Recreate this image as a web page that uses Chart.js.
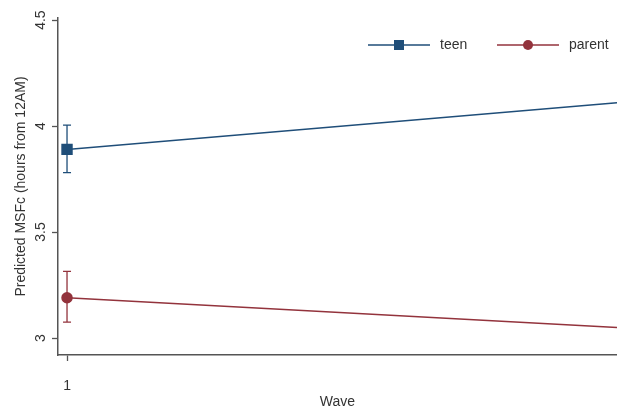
<!DOCTYPE html>
<html>
<head>
<meta charset="utf-8">
<script src="https://cdn.jsdelivr.net/npm/chart.js@4"></script>
<style>
  html, body { margin: 0; padding: 0; background: #fff; }
  #wrap { width: 617px; height: 409px; }
</style>
</head>
<body>
<div id="wrap"><canvas id="msfChart" width="617" height="409"></canvas></div>
<script>
// values
const waves = [1, 2];
const teenMean = [3.89, 4.11];
const parentMean = [3.19, 3.05];
const teenLow = [3.78, null];
const teenHigh = [4.005, null];
const parentLow = [3.075, null];
const parentHigh = [3.315, null];
const yTicks = [3, 3.5, 4, 4.5];
const xTicks = [1];

const teenColor = '#1f4e79';
const parentColor = '#93333c';

const toPoints = (ys) => waves.map((w, i) => ({ x: w, y: ys[i] }));

// error bars at each wave where a CI exists
const errorBars = {
    id: 'errorBars',
    afterDatasetsDraw(chart) {
        const { ctx, scales: { x, y } } = chart;
        const sets = [
            [teenLow, teenHigh, teenColor],
            [parentLow, parentHigh, parentColor]
        ];
        ctx.save();
        ctx.lineWidth = 1.3;
        sets.forEach(([lo, hi, color]) => {
            ctx.strokeStyle = color;
            waves.forEach((w, i) => {
                if (lo[i] == null) return;
                const px = x.getPixelForValue(w);
                const y1 = y.getPixelForValue(lo[i]);
                const y2 = y.getPixelForValue(hi[i]);
                ctx.beginPath();
                ctx.moveTo(px, y1); ctx.lineTo(px, y2);
                ctx.moveTo(px - 4, y1); ctx.lineTo(px + 4, y1);
                ctx.moveTo(px - 4, y2); ctx.lineTo(px + 4, y2);
                ctx.stroke();
            });
        });
        ctx.restore();
    }
};

// Stata-like legend: line with marker, then label
const lineLegend = {
    id: 'lineLegend',
    afterDraw(chart) {
        const { ctx } = chart;
        const items = [
            { x: 368, label: 'teen', color: teenColor, style: 'rect' },
            { x: 497, label: 'parent', color: parentColor, style: 'circle' }
        ];
        const yy = 45;
        ctx.save();
        items.forEach(it => {
            ctx.strokeStyle = it.color;
            ctx.lineWidth = 1.5;
            ctx.beginPath();
            ctx.moveTo(it.x, yy); ctx.lineTo(it.x + 62, yy);
            ctx.stroke();
            ctx.fillStyle = it.color;
            if (it.style === 'rect') {
                ctx.fillRect(it.x + 31 - 5, yy - 5, 10, 10);
            } else {
                ctx.beginPath();
                ctx.arc(it.x + 31, yy, 5, 0, Math.PI * 2);
                ctx.fill();
            }
            ctx.fillStyle = '#333';
            ctx.font = '14px "Liberation Sans", Arial, sans-serif';
            ctx.textBaseline = 'middle';
            ctx.textAlign = 'left';
            ctx.fillText(it.label, it.x + 72, yy);
        });
        ctx.restore();
    }
};

const ctx = document.getElementById('msfChart').getContext('2d');
Chart.defaults.font.family = '"Liberation Sans", Arial, sans-serif';
Chart.defaults.color = '#333';

const msfChart = new Chart(ctx, {
    type: 'line',
    data: {
        datasets: [
            {
                label: 'teen',
                data: toPoints(teenMean),
                borderColor: teenColor,
                backgroundColor: teenColor,
                borderWidth: 1.5,
                pointStyle: 'rect',
                pointRadius: [7, 0],
                tension: 0
            },
            {
                label: 'parent',
                data: toPoints(parentMean),
                borderColor: parentColor,
                backgroundColor: parentColor,
                borderWidth: 1.5,
                pointStyle: 'circle',
                pointRadius: [5, 0],
                tension: 0
            }
        ]
    },
    options: {
        responsive: false,
        animation: false,
        layout: { autoPadding: false, padding: { top: 18, right: 0, left: 0, bottom: 0 } },
        plugins: {
            legend: { display: false },
            tooltip: { enabled: false }
        },
        scales: {
            x: {
                type: 'linear',
                min: 0.9836,
                max: 2,
                afterBuildTicks: (s) => { s.ticks = xTicks.map(v => ({ value: v })); },
                afterFit: (s) => { s.height = 54; },
                grid: { display: true, drawOnChartArea: false, drawTicks: true, tickLength: 6, tickColor: '#555', tickWidth: 1.3 },
                border: { display: true, color: '#555', width: 1.5 },
                ticks: { color: '#333', font: { size: 14 }, padding: 17, callback: (v) => String(v) },
                title: { display: true, text: 'Wave', color: '#333', font: { size: 14, lineHeight: 1 }, padding: { top: 0, bottom: 0 } }
            },
            y: {
                min: 2.92,
                max: 4.51,
                afterBuildTicks: (s) => { s.ticks = yTicks.map(v => ({ value: v })); },
                afterFit: (s) => { s.width = 58; },
                grid: { display: true, drawOnChartArea: false, drawTicks: true, tickLength: 6, tickColor: '#555', tickWidth: 1.3 },
                border: { display: true, color: '#555', width: 1.5 },
                ticks: {
                    color: '#333',
                    font: { size: 14 },
                    minRotation: 90,
                    maxRotation: 90,
                    crossAlign: 'center',
                    padding: 1,
                    callback: (v) => String(v)
                },
                title: { display: true, text: 'Predicted MSFc (hours from 12AM)', color: '#333', font: { size: 14 }, padding: { top: 13, bottom: 0 } }
            }
        }
    },
    plugins: [errorBars, lineLegend]
});
</script>
</body>
</html>
